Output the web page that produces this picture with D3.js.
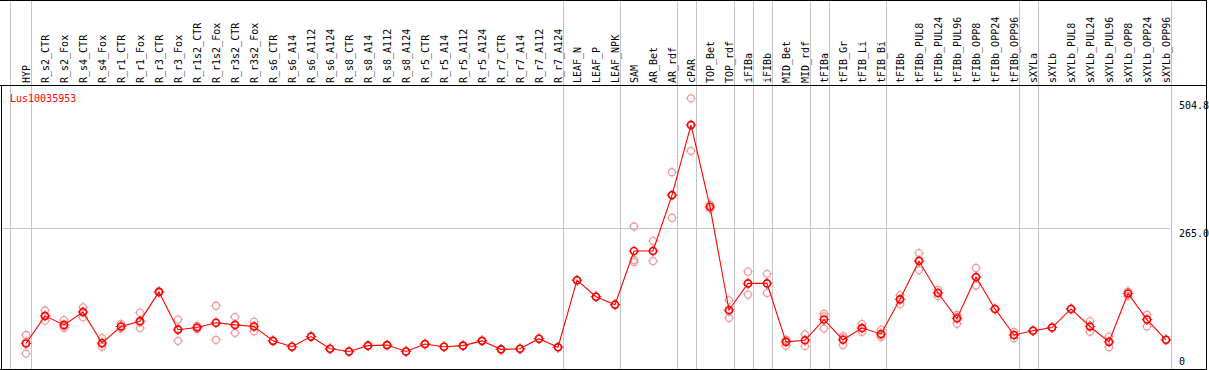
<!DOCTYPE html>
<html><head><meta charset="utf-8">
<script src="https://cdn.jsdelivr.net/npm/d3@7"></script>
<style>body{margin:0;background:#fff}svg{display:block}text{font-family:"DejaVu Sans Mono",monospace;font-size:10px}</style>
</head><body><svg id="c" width="1209" height="370"></svg>
<script>
const categories = ["HYP","R_s2_CTR","R_s2_Fox","R_s4_CTR","R_s4_Fox","R_r1_CTR","R_r1_Fox","R_r3_CTR","R_r3_Fox","R_r1s2_CTR","R_r1s2_Fox","R_r3s2_CTR","R_r3s2_Fox","R_s6_CTR","R_s6_A14","R_s6_A112","R_s6_A124","R_s8_CTR","R_s8_A14","R_s8_A112","R_s8_A124","R_r5_CTR","R_r5_A14","R_r5_A112","R_r5_A124","R_r7_CTR","R_r7_A14","R_r7_A112","R_r7_A124","LEAF_N","LEAF_P","LEAF_NPK","SAM","AR_Bet","AR_rdf","cPAR","TOP_Bet","TOP_rdf","iFIBa","iFIBb","MID_Bet","MID_rdf","tFIBa","tFIB_Gr","tFIB_Li","tFIB_Bi","tFIBb","tFIBb_PUL8","tFIBb_PUL24","tFIBb_PUL96","tFIBb_OPP8","tFIBb_OPP24","tFIBb_OPP96","sXYLa","sXYLb","sXYLb_PUL8","sXYLb_PUL24","sXYLb_PUL96","sXYLb_OPP8","sXYLb_OPP24","sXYLb_OPP96"];
const means = [47,99,82,106,48,79,89,144,73,77,86,82,79,52,41,60,37,32,43,44,32,46,41,43,52,36,37,56,40,166,135,120,221,221,326,458,304,110,160,160,50,53,92,54,76,65,130,202,142,94,172,112,63,71,77,112,79,50,141,92,54];
const rep1 = [63,109,91,115,57,84,105,145,92,80,118,97,88,52,41,60,37,32,43,44,32,46,41,43,52,36,37,56,40,166,135,120,267,240,369,508,308,128,182,178,54,64,103,61,84,73,138,217,148,101,189,112,69,71,77,112,89,60,145,101,54];
const rep2 = [28,90,76,96,41,75,76,143,52,74,54,67,70,52,41,60,37,32,43,44,32,46,41,43,52,36,37,56,40,166,135,120,204,202,283,409,300,95,139,142,43,42,75,44,69,59,121,185,136,84,156,112,57,71,77,112,69,40,136,79,54];
const rep3 = [50,98,80,107,46,79,87,144,75,77,86,82,79,52,41,60,37,32,43,44,32,46,41,43,52,36,37,56,40,166,135,120,200,221,326,457,304,107,159,160,53,53,98,57,76,63,130,204,142,97,171,112,63,71,77,112,79,50,141,92,54];
const yTicks = [0, 265.0, 504.8];
const yTickLabels = ["0","265.0","504.8"];
const separatorsAfter = ["HYP","R_r7_A124","LEAF_NPK","AR_rdf","cPAR","TOP_rdf","iFIBa","iFIBb","MID_rdf","tFIBa","tFIB_Bi","tFIBb_OPP96","sXYLa","sXYLb_OPP96"];
const geneName = "Lus10035953";

const svg = d3.select("#c");
const x = d3.scalePoint().domain(categories).range([26, 1166]);
const y = d3.scaleLinear().domain([0, 504.8]).range([368.5, 100]);
const grey = "#c4c4c4";

svg.append("line").attr("x1",1).attr("x2",1170).attr("y1",Math.round(y(265))+0.5).attr("y2",Math.round(y(265))+0.5).attr("stroke",grey);
svg.append("line").attr("x1",10.5).attr("x2",10.5).attr("y1",0).attr("y2",370).attr("stroke",grey);
separatorsAfter.forEach(c=>{
  const xx = Math.round(x(c)+4.5)+0.5;
  svg.append("line").attr("x1",xx).attr("x2",xx).attr("y1",0).attr("y2",370).attr("stroke",grey);
});
svg.append("line").attr("x1",0).attr("x2",1207).attr("y1",0.5).attr("y2",0.5).attr("stroke","#000");
svg.append("line").attr("x1",0).attr("x2",1207).attr("y1",85.5).attr("y2",85.5).attr("stroke","#000");
svg.append("line").attr("x1",0).attr("x2",1207).attr("y1",369.5).attr("y2",369.5).attr("stroke","#000");
svg.append("line").attr("x1",1.5).attr("x2",1.5).attr("y1",85).attr("y2",370).attr("stroke","#000");
svg.append("line").attr("x1",1206.5).attr("x2",1206.5).attr("y1",0).attr("y2",370).attr("stroke","#000");

svg.append("g").selectAll("text").data(categories).join("text")
  .attr("transform",d=>`translate(${x(d)+3.5},83) rotate(-90)`)
  .attr("fill","#000").text(d=>d);

const yl = svg.append("g");
yTicks.forEach((v,i)=>{
  let ty = y(v)+9;
  if (v===0) ty = 365;
  yl.append("text").attr("x",1179).attr("y",ty).attr("fill","#000").text(yTickLabels[i]);
});

svg.append("text").attr("x",10).attr("y",102).attr("fill","#ff0000").text(geneName);

function marker(g, cx, cy, color, sw){
  g.append("circle").attr("cx",cx).attr("cy",cy).attr("r",3.5).attr("fill","none").attr("stroke",color).attr("stroke-width",sw);
  [[0,-1],[0,1],[-1,0],[1,0]].forEach(([dx,dy])=>{
    g.append("line").attr("x1",cx+dx*4.2).attr("y1",cy+dy*4.2).attr("x2",cx+dx*5.2).attr("y2",cy+dy*5.2).attr("stroke",color).attr("stroke-width",1);
  });
}
const pink = "#ee9a9a";
const rg = svg.append("g");
[rep1,rep2,rep3].forEach(arr=>{
  arr.forEach((v,i)=>marker(rg, x(categories[i]), y(v), pink, 1.3));
});
svg.append("path").datum(means)
  .attr("d", d3.line().x((d,i)=>x(categories[i])).y(d=>y(d)))
  .attr("fill","none").attr("stroke","#ff0000").attr("stroke-width",1.1);
const mg = svg.append("g");
means.forEach((v,i)=>marker(mg, x(categories[i]), y(v), "#ff0000", 1.6));
</script></body></html>
